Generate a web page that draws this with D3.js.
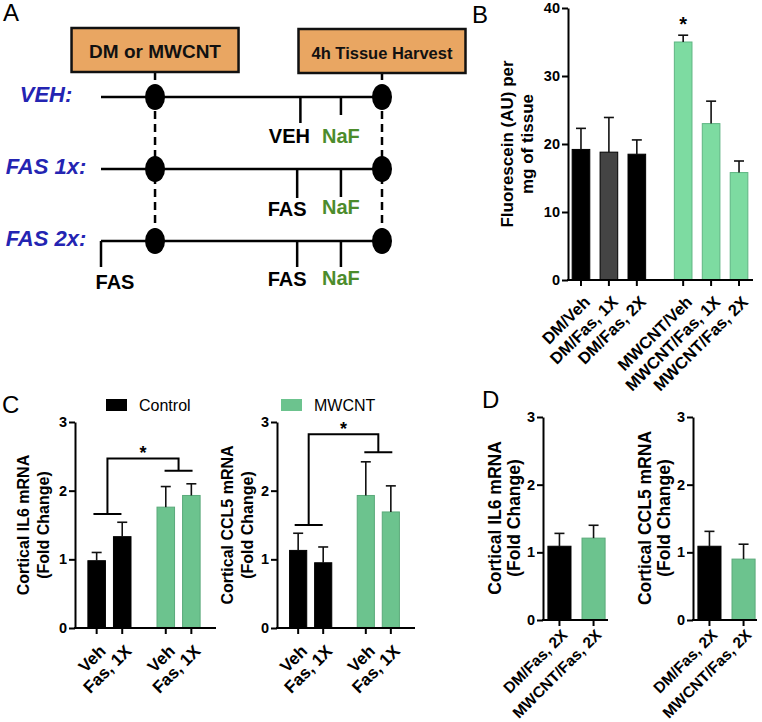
<!DOCTYPE html>
<html><head><meta charset="utf-8">
<script src="https://cdn.jsdelivr.net/npm/d3@7"></script>
<style>
body{margin:0;background:#fff}
svg{display:block}
text{font-family:"Liberation Sans",Arial,Helvetica,sans-serif}
</style>
</head><body>
<svg id="chart" width="762" height="722"></svg>
<script>
// ---------------- DATA ----------------
// Panel A: schematic timeline
const timelineRows = ["VEH:", "FAS 1x:", "FAS 2x:"];
const timelineBoxes = [{label: "DM or MWCNT", t: 1}, {label: "4h Tissue Harvest", t: 5.2}];
const timelineStart = 0, timelineExposure = 1, timelineHarvest = 5.2;
const timelineEvents = [
  {row: 0, t: 3.69, label: "VEH", color: "#000"},
  {row: 0, t: 4.44, label: "NaF", color: "#4c8c2c"},
  {row: 1, t: 3.63, label: "FAS", color: "#000"},
  {row: 1, t: 4.44, label: "NaF", color: "#4c8c2c"},
  {row: 2, t: 0,    label: "FAS", color: "#000"},
  {row: 2, t: 3.63, label: "FAS", color: "#000"},
  {row: 2, t: 4.44, label: "NaF", color: "#4c8c2c"}
];

// Panel B: fluorescein
const bGroups = ["DM", "DM", "DM", "MWCNT", "MWCNT", "MWCNT"];
const bTreatments = ["Veh", "Fas, 1X", "Fas, 2X", "Veh", "Fas, 1X", "Fas, 2X"];
const bValues = [19.2, 18.8, 18.5, 35.0, 23.0, 15.8];
const bErrors = [3.1, 5.1, 2.1, 1.0, 3.3, 1.7];
const bTicks = [0, 10, 20, 30, 40];

// Panel C: IL6 and CCL5 (Control vs MWCNT, Veh / Fas 1X)
const cGroups = ["Control", "Control", "MWCNT", "MWCNT"];
const cTreatments = ["Veh", "Fas, 1X", "Veh", "Fas, 1X"];
const cIL6Values = [0.98, 1.33, 1.76, 1.93];
const cIL6Errors = [0.12, 0.21, 0.30, 0.17];
const cCCL5Values = [1.13, 0.95, 1.93, 1.69];
const cCCL5Errors = [0.25, 0.23, 0.49, 0.38];
const cIL6Bracket = {ctrl: 1.66, top: 2.47, mw: 2.29, star: 2.61};
const cCCL5Bracket = {ctrl: 1.50, top: 2.82, mw: 2.56, star: 2.96};

// Panel D: Fas 2X
const dCategories = ["DM/Fas, 2X", "MWCNT/Fas, 2X"];
const dIL6Values = [1.09, 1.21];
const dIL6Errors = [0.19, 0.19];
const dCCL5Values = [1.09, 0.90];
const dCCL5Errors = [0.22, 0.22];
const mrnaTicks = [0, 1, 2, 3];

// ---------------- STYLE ----------------
const FONT = '"Liberation Sans", Arial, Helvetica, sans-serif';
const GREEN_B = "#7ddba1", GREEN_B_EDGE = "#5fb583";
const GREEN_C = "#6cc38e", GREEN_C_EDGE = "#5aa97a";
const BLUE = "#2424b2";
const ORANGE = "#e9a662";

const svg = d3.select("#chart");

function panelLabel(t, x, y) {
  svg.append("text").attr("x", x).attr("y", y).text(t)
    .style("font-size", "24px").attr("fill", "#000");
}

function yAxis(g, scale, x, ticks, fs) {
  const ax = d3.axisLeft(scale).tickValues(ticks).tickSize(6).tickSizeOuter(0)
    .tickPadding(2).tickFormat(d3.format("d"));
  const a = g.append("g").attr("transform", `translate(${x},0)`).call(ax);
  a.select(".domain").attr("stroke", "#000").attr("stroke-width", 2);
  a.selectAll(".tick line").attr("stroke", "#000").attr("stroke-width", 2);
  a.selectAll(".tick text").attr("fill", "#000")
    .style("font-family", FONT).style("font-size", fs + "px").style("font-weight", "bold");
}

function xAxis(g, x0, x1, y, centers, labels, fs, dx, dy) {
  g.append("line").attr("x1", x0 - 1).attr("x2", x1).attr("y1", y).attr("y2", y)
    .attr("stroke", "#000").attr("stroke-width", 2);
  g.selectAll(null).data(centers).join("line")
    .attr("x1", d => d).attr("x2", d => d).attr("y1", y).attr("y2", y + 6)
    .attr("stroke", "#000").attr("stroke-width", 2);
  g.selectAll(null).data(labels).join("text")
    .attr("transform", (d, i) => `translate(${centers[i] + dx},${y + dy}) rotate(-45)`)
    .attr("text-anchor", "end").attr("dy", "0.35em")
    .style("font-size", fs + "px").style("font-weight", "bold").attr("fill", "#000")
    .text(d => d);
}

function bars(g, centers, width, yScale, values, errors, fills, strokes) {
  const y0 = yScale(0);
  g.selectAll(null).data(values).join("rect")
    .attr("x", (d, i) => centers[i] - width / 2 + 0.5)
    .attr("width", width - 1)
    .attr("y", d => yScale(d))
    .attr("height", d => y0 - yScale(d))
    .attr("fill", (d, i) => fills[i])
    .attr("stroke", (d, i) => strokes[i]).attr("stroke-width", 1);
  g.selectAll(null).data(values).join("line")
    .attr("x1", (d, i) => centers[i]).attr("x2", (d, i) => centers[i])
    .attr("y1", d => yScale(d)).attr("y2", (d, i) => yScale(d + errors[i]))
    .attr("stroke", "#111").attr("stroke-width", 1.6);
  g.selectAll(null).data(values).join("line")
    .attr("x1", (d, i) => centers[i] - 5).attr("x2", (d, i) => centers[i] + 5)
    .attr("y1", (d, i) => yScale(d + errors[i])).attr("y2", (d, i) => yScale(d + errors[i]))
    .attr("stroke", "#111").attr("stroke-width", 1.6);
}

function yLabel(lines, cx, cy, gap, fs) {
  lines.forEach((t, i) => {
    svg.append("text")
      .attr("transform", `translate(${cx + i * gap},${cy}) rotate(-90)`)
      .attr("text-anchor", "middle").attr("dy", "0.35em")
      .style("font-size", fs + "px").style("font-weight", "bold").attr("fill", "#000")
      .text(t);
  });
}

// ---------------- PANEL A ----------------
panelLabel("A", 3, 21);
(function () {
  const g = svg.append("g");
  const tx = d3.scaleLinear().domain([0, 5.2]).range([101, 382]);
  const ry = d3.scaleLinear().domain([0, 2]).range([97, 241]);
  const boxW = 167, boxH = 44, boxTop = 28;

  timelineBoxes.forEach(b => {
    g.append("line").attr("x1", tx(b.t)).attr("x2", tx(b.t))
      .attr("y1", boxTop + boxH).attr("y2", ry(2))
      .attr("stroke", "#000").attr("stroke-width", 2.5).attr("stroke-dasharray", "8,5");
  });
  timelineBoxes.forEach((b, i) => {
    g.append("rect").attr("x", tx(b.t) - boxW / 2).attr("y", boxTop + i)
      .attr("width", boxW).attr("height", boxH)
      .attr("fill", ORANGE).attr("stroke", "#111").attr("stroke-width", 2.5);
    g.append("text").attr("x", tx(b.t)).attr("y", boxTop + i + 30)
      .attr("text-anchor", "middle")
      .style("font-size", i === 0 ? "19px" : "16.5px").style("font-weight", "bold")
      .attr("fill", "#111").text(b.label);
  });
  timelineRows.forEach((r, i) => {
    g.append("line").attr("x1", tx(timelineStart)).attr("x2", tx(timelineHarvest))
      .attr("y1", ry(i)).attr("y2", ry(i)).attr("stroke", "#000").attr("stroke-width", 2.5);
    g.append("text").attr("x", 46).attr("y", ry(i) + 5).attr("text-anchor", "middle")
      .style("font-size", "22px").style("font-weight", "bold").style("font-style", "italic")
      .attr("fill", BLUE).text(r);
    [timelineExposure, timelineHarvest].forEach(t => {
      g.append("ellipse").attr("cx", tx(t)).attr("cy", ry(i)).attr("rx", 10).attr("ry", 13).attr("fill", "#000");
    });
  });
  const tickLen = [26, 18, 29, 28, 26, 26, 26];
  const labelOffset = [-11, 0, -10, 0, 14, -10, 0];
  const labelDy = [46, 46, 47, 45, 48, 45, 44];
  timelineEvents.forEach((e, i) => {
    const x = tx(e.t), y = ry(e.row);
    g.append("line").attr("x1", x).attr("x2", x).attr("y1", y).attr("y2", y + tickLen[i])
      .attr("stroke", "#000").attr("stroke-width", 2.5);
    g.append("text").attr("x", x + labelOffset[i]).attr("y", y + labelDy[i])
      .attr("text-anchor", "middle")
      .style("font-size", "20px").style("font-weight", "bold")
      .attr("fill", e.color).text(e.label);
  });
})();

// ---------------- PANEL B ----------------
panelLabel("B", 472, 23);
(function () {
  const g = svg.append("g");
  const y = d3.scaleLinear().domain([0, 40]).range([280, 8]);
  const outer = d3.scaleBand().domain(["DM", "MWCNT"]).range([567, 753]).paddingInner(0.18).paddingOuter(0);
  const inner = d3.scaleBand().domain([0, 1, 2]).range([0, outer.bandwidth()]).paddingInner(0.333).paddingOuter(0.1667);
  const centers = bValues.map((d, i) => outer(bGroups[i]) + inner(i % 3) + inner.bandwidth() / 2);
  const fills = bGroups.map((gr, i) => gr === "DM" ? (i === 1 ? "#444" : "#000") : GREEN_B);
  const strokes = bGroups.map(gr => gr === "DM" ? "#000" : GREEN_B_EDGE);
  bars(g, centers, inner.bandwidth(), y, bValues, bErrors, fills, strokes);
  xAxis(g, 568, 753, y(0), centers, bGroups.map((gr, i) => gr + "/" + bTreatments[i]), 16.5, 6, 19);
  yAxis(g, y, 568, bTicks, 14.5);
  g.append("text").attr("x", centers[3]).attr("y", y(38.3) + 11).attr("text-anchor", "middle")
    .style("font-size", "20px").style("font-weight", "bold").text("*");
  yLabel(["Fluorescein (AU) per", "mg of tissue"], 507, 144, 20, 17);
})();

// ---------------- PANEL C ----------------
panelLabel("C", 2, 413);
svg.append("rect").attr("x", 106).attr("y", 399).attr("width", 21).attr("height", 12).attr("fill", "#000");
svg.append("text").attr("x", 139).attr("y", 411).style("font-size", "16px").text("Control");
svg.append("rect").attr("x", 281).attr("y", 399).attr("width", 21).attr("height", 12).attr("fill", GREEN_C);
svg.append("text").attr("x", 314).attr("y", 411).style("font-size", "16px").text("MWCNT");

function panelC(axisX, axisEnd, values, errors, br, labelLines, labelX) {
  const g = svg.append("g");
  const y = d3.scaleLinear().domain([0, 3]).range([628, 422]);
  const outer = d3.scaleBand().domain(["Control", "MWCNT"]).range([axisX - 1.5, axisEnd - 1.5])
    .paddingInner(0.26).paddingOuter(0.15);
  const inner = d3.scaleBand().domain([0, 1]).range([0, outer.bandwidth()])
    .paddingInner(0.275).paddingOuter(0.1375);
  const centers = values.map((d, i) => outer(cGroups[i]) + inner(i % 2) + inner.bandwidth() / 2);
  const fills = cGroups.map(gr => gr === "Control" ? "#000" : GREEN_C);
  const strokes = cGroups.map(gr => gr === "Control" ? "#000" : GREEN_C_EDGE);
  bars(g, centers, inner.bandwidth(), y, values, errors, fills, strokes);
  xAxis(g, axisX, axisEnd, y(0), centers, cTreatments, 17, 6, 20);
  yAxis(g, y, axisX, mrnaTicks, 14.5);
  const cc = outer("Control") + outer.bandwidth() / 2 - 2;
  const mc = outer("MWCNT") + outer.bandwidth() / 2;
  const path = d3.path();
  path.moveTo(cc - 14, y(br.ctrl)); path.lineTo(cc + 14, y(br.ctrl));
  path.moveTo(cc, y(br.ctrl)); path.lineTo(cc, y(br.top)); path.lineTo(mc, y(br.top)); path.lineTo(mc, y(br.mw));
  path.moveTo(mc - 14, y(br.mw)); path.lineTo(mc + 14, y(br.mw));
  g.append("path").attr("d", path.toString()).attr("fill", "none").attr("stroke", "#000").attr("stroke-width", 2);
  g.append("text").attr("x", (cc + mc) / 2).attr("y", y(br.star) + 10).attr("text-anchor", "middle")
    .style("font-size", "18px").style("font-weight", "bold").text("*");
  yLabel(labelLines, labelX, 525, 20, 16);
}
panelC(75, 216, cIL6Values, cIL6Errors, cIL6Bracket, ["Cortical IL6 mRNA", "(Fold Change)"], 23);
panelC(277, 415, cCCL5Values, cCCL5Errors, cCCL5Bracket, ["Cortical CCL5 mRNA", "(Fold Change)"], 227);

// ---------------- PANEL D ----------------
panelLabel("D", 482, 408);
function panelD(axisX, axisEnd, values, errors, labelLines, labelX) {
  const g = svg.append("g");
  const y = d3.scaleLinear().domain([0, 3]).range([620, 417]);
  const x = d3.scaleBand().domain(dCategories).range([axisX + 1, axisX + 66]).paddingInner(0.294).paddingOuter(0.1);
  const centers = dCategories.map(c => x(c) + x.bandwidth() / 2);
  bars(g, centers, x.bandwidth(), y, values, errors, ["#000", GREEN_C], ["#000", GREEN_C_EDGE]);
  xAxis(g, axisX, axisEnd, y(0), centers, dCategories, 15.5, 5, 12);
  yAxis(g, y, axisX, mrnaTicks, 14.5);
  yLabel(labelLines, labelX, 518, 19, 17.5);
}
panelD(543, 608, dIL6Values, dIL6Errors, ["Cortical IL6 mRNA", "(Fold Change)"], 495);
panelD(693, 757, dCCL5Values, dCCL5Errors, ["Cortical CCL5 mRNA", "(Fold Change)"], 645);
</script>
</body></html>
